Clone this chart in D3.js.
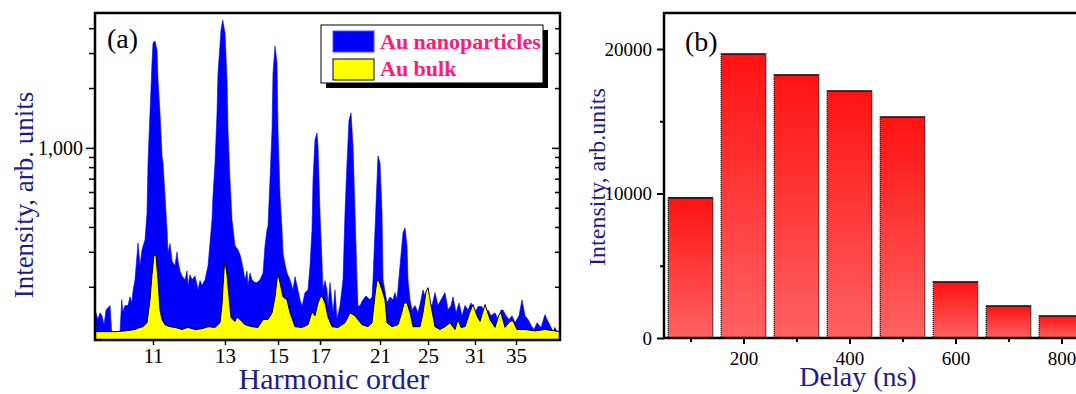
<!DOCTYPE html>
<html><head><meta charset="utf-8">
<script src="https://cdn.jsdelivr.net/npm/d3@7"></script>
<style>body{margin:0;background:#fff}</style></head>
<body>
<svg id="c" width="1076" height="394"></svg>
<script>
// ---------- Panel (a): spectra (detector channel, intensity) ----------
const nanoSpectrum = [[0,153],[3,137],[5,148],[7,143],[9,128],[11,153],[13,157],[15,161],[16.7,117],[25,117],[26.7,172],[28,150],[30,161],[33,161],[35,178],[36.7,166],[38,190],[40,217],[43,333],[45,255],[47,307],[50,345],[52,471],[53,840],[55,1500],[57,2670],[58,3370],[60,3450],[62,3110],[63,2200],[65,1500],[67,912],[68,840],[70,574],[72,387],[73,296],[75,330],[77,270],[80,255],[82,300],[83,270],[85,240],[87,227],[90,217],[92,240],[93,203],[95,230],[97,217],[100,227],[102,205],[103,193],[105,215],[107,203],[110,217],[113,255],[117,435],[118,574],[120,840],[122,1500],[123,2380],[126,3920],[127.7,4400],[130,3780],[132,2200],[133,1230],[135,690],[137,435],[140,322],[143,307],[145,290],[147,264],[150,217],[152,240],[153,203],[155,235],[157,217],[160,210],[162,210],[165,217],[168,235],[170,322],[172,387],[173,405],[175,690],[177,1230],[178,2380],[180,3260],[182,2670],[183,1230],[185,574],[187,387],[188,296],[190,260],[192,235],[195,217],[198,193],[200,225],[202,203],[205,172],[207,159],[210,187],[213,193],[215,255],[217,387],[218,690],[220,1100],[222,1190],[223,1023],[225,471],[227,264],[228,193],[230,215],[232,193],[233,159],[235,210],[238,148],[240,193],[242,137],[245,161],[248,217],[250,471],[252,840],[254,1380],[256,1500],[258,1023],[260,471],[262,217],[263,159],[265,161],[268,172],[271,180],[275,172],[277,178],[278,217],[280,387],[282,690],[283,912],[285,840],[287,471],[288,217],[292,166],[295,178],[298,172],[300,187],[302,172],[305,255],[308,374],[310,396],[312,322],[313,217],[315,172],[317,153],[320,161],[323,148],[326,172],[328,193],[330,180],[333,166],[337,161],[340,187],[343,161],[346,172],[350,187],[353,153],[356,161],[358,178],[361,148],[364,166],[367,143],[370,161],[373,153],[376,166],[380,148],[383,159],[387,159],[390,143],[393,153],[396,143],[400,148],[403,137],[406,153],[408,153],[411,143],[414,137],[417,143],[420,132],[424,143],[427,172],[430,143],[433,137],[436,128],[439,122],[442,132],[446,125],[450,145],[452,137],[455,128],[458,119],[460,125],[462,119],[465,119]];

const bulkSpectrum = [[0,119],[10,119],[20,119],[30,120],[40,122],[45,125],[48,126],[52,132],[55,172],[57,230],[59,290],[61,287],[63,217],[65,153],[67,137],[70,129],[75,126],[80,125],[87,122],[93,125],[100,122],[107,123],[113,126],[120,125],[125,132],[127,163],[129,244],[130,270],[132,230],[134,178],[136,140],[140,134],[142,141],[145,137],[150,129],[157,126],[163,125],[168,137],[173,137],[177,148],[180,178],[182,217],[183,233],[185,210],[188,178],[192,172],[195,148],[200,126],[207,125],[213,129],[217,150],[220,143],[223,166],[225,176],[227,180],[230,166],[233,141],[237,126],[243,125],[250,132],[255,148],[260,143],[267,129],[273,126],[277,132],[280,182],[282,217],[284,213],[287,193],[290,172],[292,132],[297,126],[303,129],[307,150],[309,166],[312,166],[315,148],[318,126],[325,126],[328,148],[331,189],[333,198],[336,161],[340,126],[345,122],[350,126],[355,132],[360,122],[363,137],[366,125],[370,126],[375,150],[378,163],[382,143],[385,134],[390,163],[395,137],[400,125],[404,145],[406,148],[410,125],[415,134],[418,135],[422,122],[430,122],[440,120],[450,122],[465,119]];

const harmonicTicks = [11, 13, 15, 17, 21, 25, 31, 35];
const harmonicTickChannel = [58, 130, 183, 225, 285, 333, 380, 421];
const intensityTicks = [200, 300, 400, 500, 600, 700, 800, 900, 1000, 2000, 3000, 4000];
const legendLabels = ["Au nanoparticles", "Au bulk"];

// ---------- Panel (b): delay bars ----------
const delays = [100, 200, 300, 400, 500, 600, 700, 800];
const delayIntensity = [9700, 19650, 18200, 17090, 15290, 3880, 2210, 1520];
const delayTicks = [200, 400, 600, 800];
const delayMinorTicks = [100, 300, 500, 700];
const barIntensityTicks = [0, 10000, 20000];
const barIntensityMinor = [5000, 15000];

const serif = '"Liberation Serif","Times New Roman",Times,serif';
const navy = "#1c1c8c";
const svg = d3.select("#c");

// ===== Panel (a) =====
const A = {l: 95, r: 560, t: 13, b: 340};
const xA = d3.scaleLinear().domain([0, 465]).range([A.l, A.r]);
const yA = d3.scaleLog().domain([108, 4770]).range([A.b, A.t]);

const defs = svg.append("defs");
defs.append("clipPath").attr("id", "clipA").append("rect")
  .attr("x", A.l).attr("y", A.t).attr("width", A.r - A.l).attr("height", A.b - A.t);

const areaA = d3.area().x(d => xA(d[0])).y0(A.b).y1(d => yA(d[1]));
const lineA = d3.line().x(d => xA(d[0])).y(d => yA(d[1]));
const gA = svg.append("g").attr("clip-path", "url(#clipA)");
gA.append("path").datum(nanoSpectrum).attr("d", areaA).attr("fill", "#0000ff").attr("stroke", "#0000ff").attr("stroke-width", 0.6);
gA.append("path").datum(bulkSpectrum).attr("d", areaA).attr("fill", "#ffff00");
gA.append("path").datum(bulkSpectrum).attr("d", lineA).attr("fill", "none").attr("stroke", "#000").attr("stroke-width", 1);

// axes (a)
const axLA = svg.append("g").attr("transform", `translate(${A.l},0)`)
  .call(d3.axisLeft(yA).tickValues(intensityTicks).tickSize(6).tickPadding(6)
        .tickFormat(d => d === 1000 ? "1,000" : ""));
axLA.selectAll(".tick line").filter(d => d === 1000).attr("x2", -9);
const axRA = svg.append("g").attr("transform", `translate(${A.r},0)`)
  .call(d3.axisLeft(yA).tickValues(intensityTicks).tickSize(5).tickFormat(""));
axRA.selectAll(".tick line").filter(d => d === 1000).attr("x2", -8);
const axBA = svg.append("g").attr("transform", `translate(0,${A.b})`)
  .call(d3.axisBottom(xA).tickValues(harmonicTickChannel).tickSize(5).tickPadding(3)
        .tickFormat((d, i) => harmonicTicks[i]));
[axLA, axRA, axBA].forEach(g => {
  g.select(".domain").remove();
  g.selectAll(".tick line").attr("stroke", "#000").attr("stroke-width", 1.5);
  g.selectAll("text").attr("fill", "#000").style("font-family", serif);
});
axLA.selectAll("text").style("font-size", "20px");
axBA.selectAll("text").style("font-size", "21px");

svg.append("rect").attr("x", A.l).attr("y", A.t).attr("width", A.r - A.l).attr("height", A.b - A.t)
  .attr("fill", "none").attr("stroke", "#000").attr("stroke-width", 2.5);

svg.append("text").attr("x", 107).attr("y", 48).text("(a)")
  .style("font-family", serif).style("font-size", "28px").attr("fill", "#000");

// legend
const lg = svg.append("g");
lg.append("rect").attr("x", 326).attr("y", 30).attr("width", 222).attr("height", 58).attr("fill", "#000");
lg.append("rect").attr("x", 321).attr("y", 25).attr("width", 222).attr("height", 58)
  .attr("fill", "#fff").attr("stroke", "#000").attr("stroke-width", 1);
const swatchColors = ["#0000ff", "#ffff00"];
legendLabels.forEach((lab, i) => {
  lg.append("rect").attr("x", 333).attr("y", 31 + i * 28).attr("width", 41).attr("height", 21)
    .attr("fill", swatchColors[i]).attr("stroke", i === 0 ? "#4a4aff" : "#000").attr("stroke-width", 1);
  lg.append("text").attr("x", 380).attr("y", 49 + i * 26.5).text(lab)
    .style("font-family", serif).style("font-size", "22px").style("font-weight", "bold").attr("fill", "#ff1a78");
});

svg.append("text").attr("transform", "translate(33,195) rotate(-90)").attr("text-anchor", "middle")
  .text("Intensity, arb. units").style("font-family", serif).style("font-size", "27px").attr("fill", navy);
svg.append("text").attr("x", 334).attr("y", 389).attr("text-anchor", "middle")
  .text("Harmonic order").style("font-family", serif).style("font-size", "30px").attr("fill", navy);

// ===== Panel (b) =====
const B = {l: 664, t: 13, b: 338};
const xB = d3.scaleLinear().domain([50, 900]).range([B.l, B.l + 850 * 0.53]);
const yB = d3.scaleLinear().domain([0, 22490]).range([B.b, B.t]);
const grad = defs.append("linearGradient").attr("id", "barGrad")
  .attr("x1", 0).attr("y1", 0).attr("x2", 0).attr("y2", 1);
grad.append("stop").attr("offset", "0%").attr("stop-color", "#ff1212");
grad.append("stop").attr("offset", "100%").attr("stop-color", "#ff6262");

const bw = xB(84) - xB(0);
const bars = svg.append("g");
bars.selectAll("rect").data(delays).join("rect")
  .attr("x", d => xB(d) - bw / 2).attr("width", bw)
  .attr("y", (d, i) => yB(delayIntensity[i])).attr("height", (d, i) => yB(0) - yB(delayIntensity[i]))
  .attr("fill", "url(#barGrad)").attr("stroke", "#111").attr("stroke-width", 1.3).attr("stroke-dasharray", "1.2,0.8");
bars.selectAll("line").data(delays).join("line")
  .attr("x1", d => xB(d) - bw / 2).attr("x2", d => xB(d) + bw / 2)
  .attr("y1", (d, i) => yB(delayIntensity[i])).attr("y2", (d, i) => yB(delayIntensity[i]))
  .attr("stroke", "#3a1010").attr("stroke-width", 1.6);

const axLB = svg.append("g").attr("transform", `translate(${B.l},0)`)
  .call(d3.axisLeft(yB).tickValues(barIntensityTicks).tickSize(7).tickPadding(5).tickFormat(d3.format("d")));
const axLBm = svg.append("g").attr("transform", `translate(${B.l},0)`)
  .call(d3.axisLeft(yB).tickValues(barIntensityMinor).tickSize(4).tickFormat(""));
const axBB = svg.append("g").attr("transform", `translate(0,${B.b})`)
  .call(d3.axisBottom(xB).tickValues(delayTicks).tickSize(6).tickPadding(8).tickFormat(d3.format("d")));
const axBBm = svg.append("g").attr("transform", `translate(0,${B.b})`)
  .call(d3.axisBottom(xB).tickValues(delayMinorTicks).tickSize(4).tickFormat(""));
[axLB, axLBm, axBB, axBBm].forEach(g => {
  g.select(".domain").remove();
  g.selectAll(".tick line").attr("stroke", "#000").attr("stroke-width", 2);
  g.selectAll("text").attr("fill", "#000").style("font-family", serif).style("font-size", "19px");
});
svg.append("rect").attr("x", B.l).attr("y", B.t).attr("width", xB(900) - B.l).attr("height", B.b - B.t)
  .attr("fill", "none").attr("stroke", "#000").attr("stroke-width", 2.5);

svg.append("text").attr("x", 685).attr("y", 51).text("(b)")
  .style("font-family", serif).style("font-size", "28px").attr("fill", "#000");
svg.append("text").attr("transform", "translate(605,177) rotate(-90)").attr("text-anchor", "middle")
  .text("Intensity, arb.units").style("font-family", serif).style("font-size", "24px").attr("fill", navy);
svg.append("text").attr("x", 858).attr("y", 386).attr("text-anchor", "middle")
  .text("Delay (ns)").style("font-family", serif).style("font-size", "28px").attr("fill", navy);
</script>
</body></html>
